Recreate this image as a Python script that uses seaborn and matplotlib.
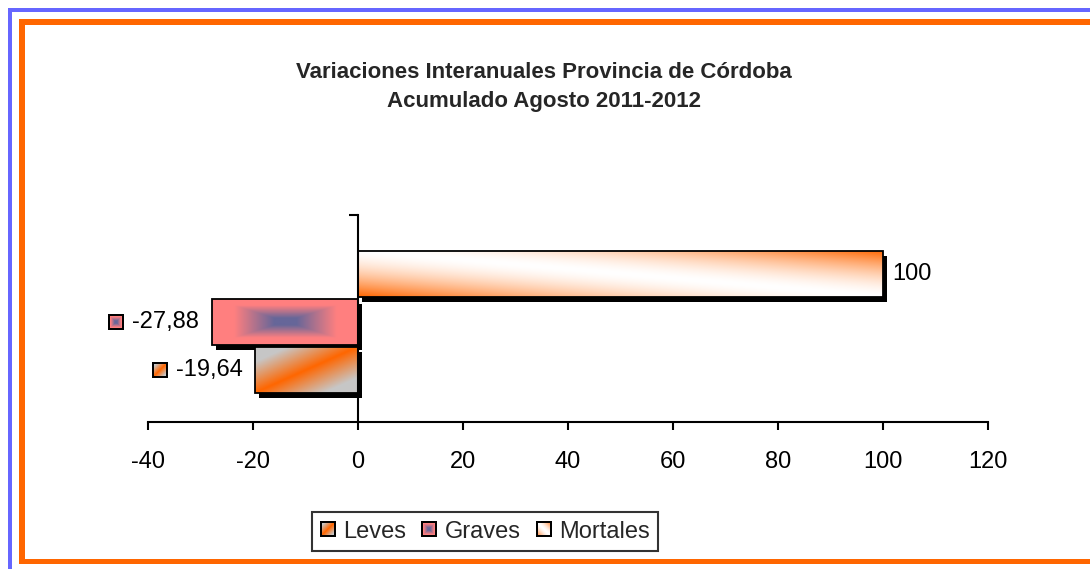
import numpy as np
import pandas as pd
import matplotlib
matplotlib.use("Agg")
import matplotlib.pyplot as plt
import seaborn as sns
from matplotlib.patches import Rectangle, Patch
from matplotlib.transforms import IdentityTransform, ScaledTranslation

# ---------------- data ----------------
series = ["Leves", "Graves", "Mortales"]
values = [-19.64, -27.88, 100.0]
value_labels = ["-19,64", "-27,88", "100"]
x_ticks = [-40, -20, 0, 20, 40, 60, 80, 100, 120]
x_tick_labels = ["-40", "-20", "0", "20", "40", "60", "80", "100", "120"]
title_lines = ["Variaciones Interanuales Provincia de Córdoba",
               "Acumulado Agosto 2011-2012"]

# ---------------- style ----------------
sns.set_style("white")
plt.rcParams["font.family"] = ["Liberation Sans", "DejaVu Sans"]

W, H = 1090, 569
fig = plt.figure(figsize=(W / 100, H / 100), dpi=100)
fig.patch.set_facecolor("white")

ORANGE = np.array([1.0, 0.4, 0.0])
GRAY = np.array([0.78, 0.78, 0.78])
PINK = np.array([1.0, 0.5, 0.5])
BLUE = np.array([0.4, 0.4, 0.6])
WHITE = np.array([1.0, 1.0, 1.0])


def grad(name, h, w):
    u = np.linspace(0, 1, w)[None, :, None]
    v = np.linspace(0, 1, h)[:, None, None]
    if name == "Leves":
        d = np.abs(u + v - 1)
        m = np.clip(d * 1.5, 0, 1)
        return ORANGE * (1 - m) + GRAY * m
    if name == "Graves":
        m = np.maximum(np.abs(2 * u - 1), np.abs(2 * v - 1))
        s = np.clip((m - 0.15) / 0.55, 0, 1)
        return BLUE * (1 - s) + PINK * s
    d = np.clip(np.abs(u - v), 0, 1) ** 1.6
    return WHITE * (1 - d) + ORANGE * d


KEY = 16


def key_img(name, size=KEY, border=2):
    arr = grad(name, size, size).copy()
    arr[:border, :] = 0
    arr[-border:, :] = 0
    arr[:, :border] = 0
    arr[:, -border:] = 0
    return arr


# ---------------- frame borders ----------------
def rect_px(x0, y0, x1, y1, color, z=0):
    fig.add_artist(Rectangle((x0, H - y1), x1 - x0, y1 - y0,
                             transform=IdentityTransform(),
                             facecolor=color, edgecolor="none", zorder=z))


rect_px(8, 8, 12, H, "#6666FF")
rect_px(8, 8, W, 12, "#6666FF")
rect_px(19, 19, 25, 564, "#FF6600")
rect_px(19, 19, W, 25, "#FF6600")
rect_px(19, 559, W, 564, "#FF6600")

# ---------------- axes ----------------
ax = fig.add_axes([148 / W, (H - 422) / H, 840 / W, 207 / H])
df = pd.DataFrame({"serie": series, "valor": values, "cat": [""] * 3})
sns.barplot(data=df, x="valor", y="cat", hue="serie",
            hue_order=["Mortales", "Graves", "Leves"], orient="h",
            width=0.70, gap=0.045, dodge=True, ax=ax, legend=False,
            edgecolor="black", linewidth=1.3, saturation=1, errorbar=None)

shadow_tr = ax.transData + ScaledTranslation(0.04, -0.05, fig.dpi_scale_trans)
bar_info = {}
for p in list(ax.patches):
    w = p.get_width()
    idx = int(np.argmin([abs(w - v) for v in values]))
    name = series[idx]
    x0 = p.get_x()
    xmin, xmax = min(x0, x0 + w), max(x0, x0 + w)
    ymin, ymax = p.get_y(), p.get_y() + p.get_height()
    bar_info[name] = (xmin, xmax, ymin, ymax)
    p.set_facecolor("none")
    p.set_zorder(3)
    sh = Rectangle((xmin, ymin), xmax - xmin, ymax - ymin, transform=shadow_tr,
                   facecolor="black", edgecolor="none", zorder=1)
    ax.add_patch(sh)
    im = ax.imshow(grad(name, 80, 300), extent=(xmin, xmax, ymax, ymin),
                   origin="upper", aspect="auto", interpolation="bilinear",
                   zorder=2)
    im.set_clip_path(p)

YTOP = -0.517
ax.set_xlim(-40, 120)
ax.set_ylim(YTOP + 1, YTOP)
ax.set_xticks(x_ticks)
ax.set_xticklabels(x_tick_labels)
ax.set_yticks([YTOP])
ax.set_yticklabels([""])
ax.set_xlabel("")
ax.set_ylabel("")
ax.set_facecolor("white")
for s in ["top", "right"]:
    ax.spines[s].set_visible(False)
ax.spines["left"].set_position(("data", 0))
ax.spines["left"].set_linewidth(1.5)
ax.spines["bottom"].set_linewidth(1.5)
ax.spines["left"].set_color("black")
ax.spines["bottom"].set_color("black")
ax.spines["left"].set_zorder(4)
ax.tick_params(axis="x", direction="out", length=6, width=1.5, pad=15,
               labelsize=17, colors="black", bottom=True)
ax.tick_params(axis="y", direction="out", length=6.5, width=1.5,
               colors="black", left=True)

# data labels
label_texts = {}
for name, val, lab in zip(series, values, value_labels):
    xmin, xmax, ymin, ymax = bar_info[name]
    yc = (ymin + ymax) / 2
    if val < 0:
        t = ax.annotate(lab, xy=(xmin, yc), xytext=(-9, 0),
                        textcoords="offset points", ha="right", va="center",
                        fontsize=17, color="black")
    else:
        t = ax.annotate(lab, xy=(xmax, yc), xytext=(7, 0),
                        textcoords="offset points", ha="left", va="center",
                        fontsize=17, color="black")
    label_texts[name] = t

# title
fig.text(544 / W, 1 - 86.5 / H, "\n".join(title_lines), ha="center",
         va="center", fontsize=16, fontweight="bold", linespacing=1.5)

# legend
handles = [Patch(facecolor="none", edgecolor="none") for _ in series]
leg = fig.legend(handles=handles, labels=series, ncol=3, loc="center",
                 bbox_to_anchor=(485 / W, (H - 531.5) / H), frameon=True,
                 fancybox=False, edgecolor="black", fontsize=17,
                 handlelength=0.65, handleheight=0.65, handletextpad=0.34,
                 columnspacing=0.64, borderpad=0.35, borderaxespad=0)
leg.get_frame().set_linewidth(1.5)
leg.get_frame().set_facecolor("white")

fig.canvas.draw()
renderer = fig.canvas.get_renderer()

half = KEY / 2
# legend keys (gradient images)
for name, hnd in zip(series, leg.legend_handles):
    bb = hnd.get_window_extent(renderer)
    cx, cy = (bb.x0 + bb.x1) / 2, (bb.y0 + bb.y1) / 2
    fig.figimage(key_img(name), xo=int(round(cx - half)), yo=int(round(cy - half)),
                 origin="upper", zorder=10)

# data label keys
for name, val in zip(series, values):
    if val >= 0:
        continue
    bb = label_texts[name].get_window_extent(renderer)
    cy = (bb.y0 + bb.y1) / 2
    fig.figimage(key_img(name), xo=int(round(bb.x0 - 16 - half)),
                 yo=int(round(cy - half)), origin="upper", zorder=10)

fig.savefig("out.png", dpi=100)
